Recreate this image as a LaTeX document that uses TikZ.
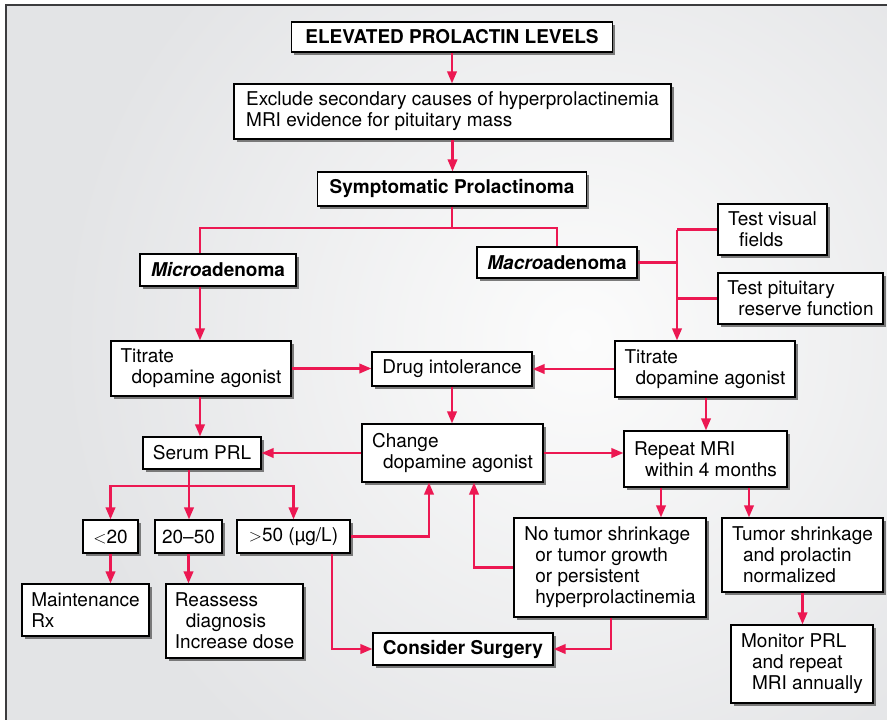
\documentclass[tikz,border=0pt]{standalone}
\usepackage{fontspec}
\setmainfont{TeX Gyre Heros}
\usetikzlibrary{arrows.meta,shadows}
\definecolor{flowred}{RGB}{236,24,82}
\definecolor{framegray}{RGB}{60,60,62}
\definecolor{bgedge}{RGB}{227,228,230}
\definecolor{bgcenter}{RGB}{252,252,252}
\newcommand{\ind}{\hspace*{11pt}}
\begin{document}
\begin{tikzpicture}[x=1pt,y=-1pt,
  box/.style={draw=black, line width=1.2pt, fill=white, inner sep=0pt, align=left,
    font=\fontsize{19}{21}\selectfont,
    drop shadow={shadow xshift=2.5pt, shadow yshift=-2.5pt, fill=black!60, opacity=0.85}},
  link/.style={draw=flowred, line width=2.2pt},
  arr/.style={link, -{Triangle[length=12pt,width=9.5pt]}}]

\useasboundingbox (0,0) rectangle (887,720);
\fill[white] (0,0) rectangle (887,720);
% soft grey panel, lighter towards the middle right
\begin{scope}
  \clip (5.5,5) rectangle (887,720);
  \fill[bgedge] (5.5,5) rectangle (887,720);
  \shade[inner color=bgcenter, outer color=bgedge] (580,340) circle (520);
\end{scope}
\draw[framegray, line width=2pt] (5.5,720) -- (5.5,5) -- (887,5);

% boxes
\node[box, minimum width=321, minimum height=30] (elev) at (452,37) {\textbf{ELEVATED PROLACTIN LEVELS}};
\node[box, minimum width=437, minimum height=55] (excl) at (452.5,111.5) {Exclude secondary causes of hyperprolactinemia\\MRI evidence for pituitary mass};
\node[box, minimum width=269, minimum height=34] (symp) at (452,189) {\textbf{Symptomatic Prolactinoma}};
\node[box, minimum width=156, minimum height=32] (micro) at (218,270) {\textbf{\textit{Micro}adenoma}};
\node[box, minimum width=160, minimum height=31] (macro) at (557,262.5) {\textbf{\textit{Macro}adenoma}};
\node[box, minimum width=109, minimum height=51] (tvf) at (772.5,229.5) {Test visual\\\ind fields};
\node[box, minimum width=165, minimum height=51] (tpit) at (800.5,298.5) {Test pituitary\\\ind reserve function};
\node[box, minimum width=180, minimum height=55] (titL) at (201,368.5) {Titrate\\\ind dopamine agonist};
\node[box, minimum width=160, minimum height=34] (drug) at (452,369) {Drug intolerance};
\node[box, minimum width=180, minimum height=56] (titR) at (705,369) {Titrate\\\ind dopamine agonist};
\node[box, minimum width=118, minimum height=32] (serum) at (202,453) {Serum PRL};
\node[box, minimum width=181, minimum height=58] (change) at (452.5,453) {Change\\\ind dopamine agonist};
\node[box, minimum width=163, minimum height=56] (repeat) at (705.5,459) {Repeat MRI\\\ind within 4 months};
\node[box, minimum width=55, minimum height=33] (lt20) at (110.5,536.5) {$<$20};
\node[box, minimum width=67, minimum height=33] (mid) at (188.5,536.5) {20–50};
\node[box, minimum width=113, minimum height=33] (gt50) at (293.5,536.5) {$>$50 (µg/L)};
\node[box, minimum width=127, minimum height=52] (maint) at (85.5,610) {Maintenance\\Rx};
\node[box, minimum width=137, minimum height=74] (reass) at (234.5,621) {Reassess\\\ind diagnosis\\Increase dose};
\node[box, minimum width=192, minimum height=99] (notum) at (610,567.5) {No tumor shrinkage\\\ind or tumor growth\\\ind or persistent\\\ind hyperprolactinemia};
\node[box, minimum width=161, minimum height=74] (tshr) at (802.5,555) {Tumor shrinkage\\\ind and prolactin\\\ind normalized};
\node[box, minimum width=180, minimum height=32] (surg) at (463,649) {\textbf{Consider Surgery}};
\node[box, minimum width=142, minimum height=78] (monit) at (802,664) {Monitor PRL\\\ind and repeat\\\ind MRI annually};

% connectors
\draw[arr] (elev.south) -- (elev.south |- excl.north);
\draw[arr] (excl.south) -- (excl.south |- symp.north);
\coordinate (fork) at (452,228);
\draw[link] (symp.south) -- (symp.south |- fork);
\draw[link] (200,0 |- micro.north) |- (fork) -| (557,0 |- macro.north);
\draw[arr] (200,0 |- micro.south) -- (200,0 |- titL.north);

\coordinate (mbus) at (677,0 |- tvf.west);
\draw[link] (macro.east) -- (677,0 |- macro.east);
\draw[link] (mbus) -- (tvf.west);
\draw[link] (677,0 |- tpit.west) -- (tpit.west);
\draw[arr] (mbus) -- (677,0 |- titR.north);

\draw[arr] (titL.east) -- (titL.east -| drug.west);
\draw[arr] (titR.west) -- (titR.west -| drug.east);
\draw[arr] (200,0 |- titL.south) -- (200,0 |- serum.north);
\draw[arr] (drug.south) -- (drug.south |- change.north);
\draw[arr] (change.west) -- (change.west -| serum.east);
\draw[arr] (change.east) -- (change.east -| repeat.west);
\draw[arr] (706,0 |- titR.south) -- (706,0 |- repeat.north);

\coordinate (sbus) at (189,486);
\draw[link] (189,0 |- serum.south) -- (sbus);
\draw[arr] (sbus) -- (189,0 |- mid.north);
\draw[arr] (sbus) -| (lt20.north);
\draw[arr] (sbus) -| (gt50.north);
\draw[arr] (lt20.south) -- (lt20.south |- maint.north);
\draw[arr] (mid.south) -- (mid.south |- reass.north);
\draw[arr] (gt50.east) -| (429,0 |- change.south);
\draw[arr] (332,0 |- gt50.south) |- (surg.west);

\draw[arr] (notum.west) -| (474,0 |- change.south);
\draw[arr] (611,0 |- notum.south) |- (surg.east);
\draw[arr] (661,0 |- repeat.south) -- (661,0 |- notum.north);
\draw[arr] (749,0 |- repeat.south) -- (749,0 |- tshr.north);
\draw[arr] (tshr.south) -- (tshr.south |- monit.north);
\end{tikzpicture}
\end{document}
